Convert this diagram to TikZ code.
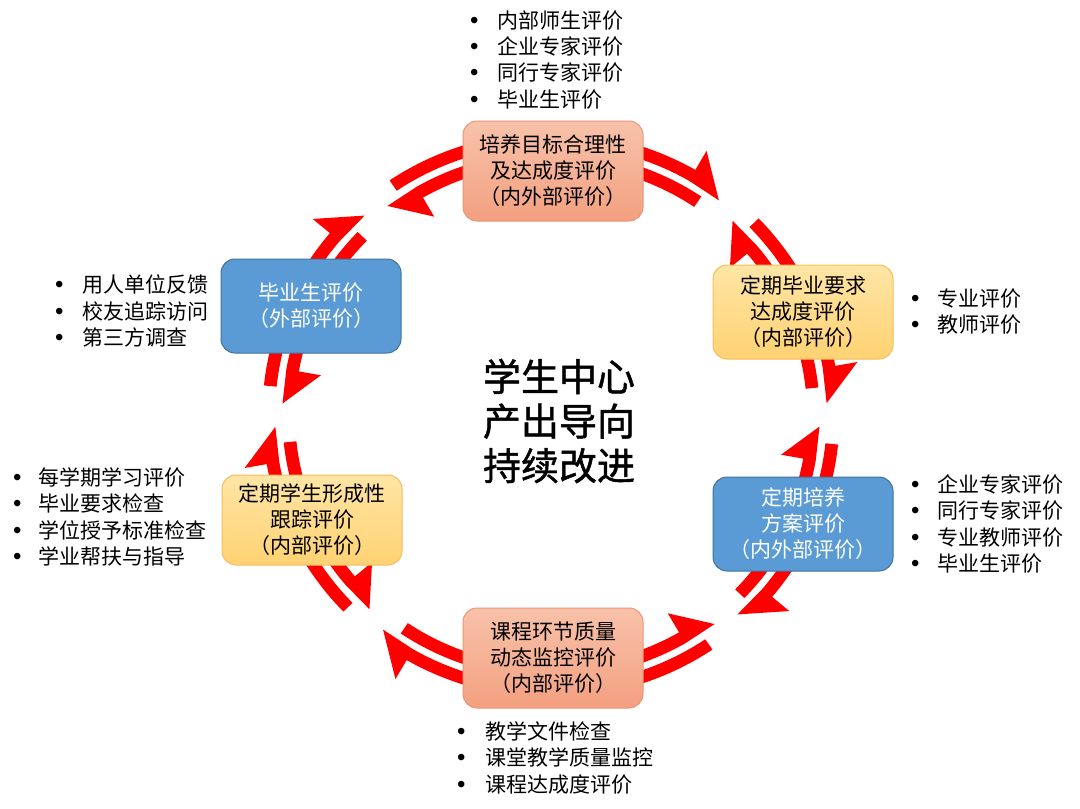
\documentclass[tikz,border=0pt]{standalone}
\usepackage{fontspec}
\setmainfont{Noto Sans CJK SC}
\newfontfamily\bulfont{Liberation Sans}
\newfontfamily\corefont[FakeBold=1.2]{Noto Sans CJK SC}
\definecolor{arrowred}{RGB}{255,0,0}
\definecolor{salTop}{RGB}{248,194,170}
\definecolor{salBot}{RGB}{243,160,128}
\definecolor{salLine}{RGB}{236,150,116}
\definecolor{yelTop}{RGB}{255,229,165}
\definecolor{yelBot}{RGB}{255,210,115}
\definecolor{yelLine}{RGB}{244,190,90}
\definecolor{bluFill}{RGB}{91,155,213}
\definecolor{bluLine}{RGB}{65,113,156}
\def\Ri{251}\def\Rb{263.5}\def\Ra{270.5}\def\Ro{283}\def\Rbarbo{305}\def\Rbarbi{229}
\newcommand\cwarrow[2]{%
  \pgfmathsetmacro\ah{#2-7.5}\pgfmathsetmacro\ac{#2-3.5}%
  \fill[arrowred] (#1:\Ro) arc[start angle=#1,end angle=\ah,radius=\Ro] -- (\ah:\Rbarbo) -- (#2:\Ra) -- (\ah:\Ra) arc[start angle=\ah,end angle=#1,radius=\Ra] -- cycle;
  \fill[arrowred] (#1:\Ri) arc[start angle=#1,end angle=\ac,radius=\Ri] -- (\ac:\Rb) arc[start angle=\ac,end angle=#1,radius=\Rb] -- cycle;}
\newcommand\ccwarrow[2]{%
  \pgfmathsetmacro\ah{#2+7.5}\pgfmathsetmacro\ac{#2+3.5}%
  \fill[arrowred] (#1:\Ri) arc[start angle=#1,end angle=\ah,radius=\Ri] -- (\ah:\Rbarbi) -- (#2:\Rb) -- (\ah:\Rb) arc[start angle=\ah,end angle=#1,radius=\Rb] -- cycle;
  \fill[arrowred] (#1:\Ra) arc[start angle=#1,end angle=\ac,radius=\Ra] -- (\ac:\Ro) arc[start angle=\ac,end angle=#1,radius=\Ro] -- cycle;}
\newcommand\bulitem[1]{\makebox[#1pt][l]{\bulfont\fontsize{24}{26}\selectfont •}}
\tikzset{
  box/.style={rounded corners=14pt, minimum width=180pt, align=center, inner sep=0pt,
    font=\fontsize{21}{26}\selectfont, line width=1pt},
  salbox/.style={box, top color=salTop, bottom color=salBot, draw=salLine},
  yelbox/.style={box, top color=yelTop, bottom color=yelBot, draw=yelLine},
  blubox/.style={box, fill=bluFill, draw=bluLine, text=white},
  bullist/.style={anchor=west, align=left, inner sep=0pt, font=\fontsize{21}{26.3}\selectfont},
}
\begin{document}
\begin{tikzpicture}[x=1pt,y=-1pt]
\useasboundingbox (0,0) rectangle (1080,809);
\fill[white] (0,0) rectangle (1080,809);
% ring arrows
\begin{scope}[shift={(551,415)}, xscale=1.02]
  \cwarrow{-90}{-52.5}
  \ccwarrow{-22}{-47.5}
  \cwarrow{-22}{-2.5}
  \ccwarrow{23}{2.5}
  \cwarrow{23}{47.5}
  \ccwarrow{90}{52.5}
  \cwarrow{90}{127.5}
  \ccwarrow{156}{132.5}
  \cwarrow{156}{177.5}
  \ccwarrow{204}{182.5}
  \cwarrow{204}{227.5}
  \ccwarrow{270}{232.5}
\end{scope}
% boxes
\node[salbox, minimum height=100pt] (top) at (553,171) {培养目标合理性\\及达成度评价\\（内外部评价）};
\node[yelbox, minimum height=94pt] (ru) at (803,312) {定期毕业要求\\达成度评价\\（内部评价）};
\node[blubox, minimum height=94pt] (rl) at (803,524) {定期培养\\方案评价\\（内外部评价）};
\node[salbox, minimum height=100pt] (bot) at (553,658) {课程环节质量\\动态监控评价\\（内部评价）};
\node[yelbox, minimum height=90pt] (ll) at (312,520) {定期学生形成性\\跟踪评价\\（内部评价）};
\node[blubox, minimum height=94pt] (lu) at (311,306) {毕业生评价\\（外部评价）};
% centre text
\node[align=center, inner sep=0pt, font=\corefont\fontsize{38}{44.5}\selectfont] (core) at (559,421) {学生中心\\产出导向\\持续改进};
% lists
\node[bullist] (ltop) at (470,59.75) {\bulitem{27}内部师生评价\\\bulitem{27}企业专家评价\\\bulitem{27}同行专家评价\\\bulitem{27}毕业生评价};
\node[bullist] (lru) at (911,311.5) {\bulitem{26}专业评价\\\bulitem{26}教师评价};
\node[bullist] (lrl) at (911,524) {\bulitem{26}企业专家评价\\\bulitem{26}同行专家评价\\\bulitem{26}专业教师评价\\\bulitem{26}毕业生评价};
\node[bullist] (lbot) at (457,758) {\bulitem{28}教学文件检查\\\bulitem{28}课堂教学质量监控\\\bulitem{28}课程达成度评价};
\node[bullist] (lll) at (13,517) {\bulitem{25}每学期学习评价\\\bulitem{25}毕业要求检查\\\bulitem{25}学位授予标准检查\\\bulitem{25}学业帮扶与指导};
\node[bullist] (llu) at (55,311) {\bulitem{27}用人单位反馈\\\bulitem{27}校友追踪访问\\\bulitem{27}第三方调查};
\end{tikzpicture}
\end{document}
